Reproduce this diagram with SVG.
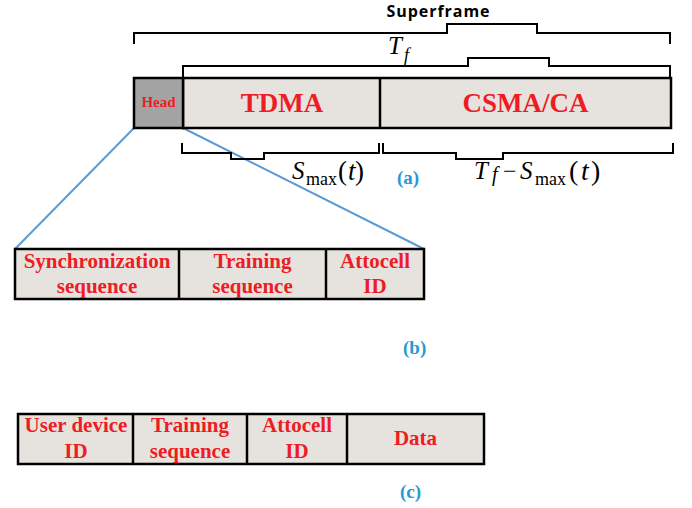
<svg xmlns="http://www.w3.org/2000/svg" width="692" height="508" viewBox="0 0 692 508">
<style>
.cell{fill:#e6e3de;stroke:#000;stroke-width:2.5}
.head{fill:#a3a3a3;stroke:#000;stroke-width:2.5}
.div{stroke:#000;stroke-width:2.5}
.brace{fill:none;stroke:#000;stroke-width:2}
.lbl{font-family:"Liberation Serif",serif;font-weight:bold;fill:#ee1c24;text-anchor:middle}
.math{font-family:"Liberation Serif",serif;fill:#000}
.it{font-style:italic}
.tag{font-family:"Liberation Serif",serif;font-weight:bold;fill:#1f9bd7;font-size:19px}
.zoom{stroke:#5b9bd5;stroke-width:2;fill:none}
</style>
<rect width="692" height="508" fill="#fff"/>
<g id="connectors">
<line class="zoom" x1="134" y1="128" x2="15" y2="249"/>
<line class="zoom" x1="183" y1="128" x2="424" y2="249"/>
</g>
<g id="superframe-brace">
<path class="brace" d="M134,44 V33 H447 V24 H537 V33 H670 V44"/>
<text x="438" y="17" font-family="Open Sans, Liberation Sans, sans-serif" font-weight="bold" font-size="16" text-anchor="middle" textLength="103" lengthAdjust="spacing" fill="#000">Superframe</text>
</g>
<g id="tf-brace">
<path class="brace" d="M183,77 V66 H468 V58 H549 V66 H670 V77"/>
<text class="math" y="54" font-size="25"><tspan class="it" x="388">T</tspan><tspan class="it" x="404" y="61" font-size="18">f</tspan></text>
</g>
<g id="frame-a">
<rect class="cell" x="183" y="78" width="488" height="50"/>
<line class="div" x1="380" y1="78" x2="380" y2="128"/>
<rect class="head" x="134" y="78" width="49" height="50"/>
<text class="lbl" x="158.5" y="107" font-size="15">Head</text>
<text class="lbl" x="282" y="112" font-size="27">TDMA</text>
<text class="lbl" x="525.5" y="112" font-size="27">CSMA/CA</text>
</g>
<g id="smax-brace">
<path class="brace" d="M182,143 V153 H231 V159 H264 V153 H379 V143"/>
<text class="math" y="179" font-size="25"><tspan class="it" x="292">S</tspan><tspan x="306" y="185" font-size="18">max</tspan><tspan x="338" y="180" font-size="27">(</tspan><tspan class="it" x="348" font-size="27">t</tspan><tspan x="355" font-size="27">)</tspan></text>
</g>
<g id="tfs-brace">
<path class="brace" d="M383,143 V153 H456 V159 H503 V153 H673 V143"/>
<text class="math" y="179" font-size="25"><tspan class="it" x="474">T</tspan><tspan class="it" x="492" y="181" font-size="20">f</tspan><tspan x="503" y="179" font-size="24">−</tspan><tspan class="it" x="520">S</tspan><tspan x="535" y="185" font-size="18">max</tspan><tspan x="569" y="180" font-size="28">(</tspan><tspan class="it" x="581" font-size="28">t</tspan><tspan x="591" font-size="28">)</tspan></text>
</g>
<text class="tag" x="397" y="184">(a)</text>
<g id="frame-b">
<rect class="cell" x="15" y="249" width="409" height="50"/>
<line class="div" x1="179" y1="249" x2="179" y2="299"/>
<line class="div" x1="326" y1="249" x2="326" y2="299"/>
<text class="lbl" x="97" y="268" font-size="21">Synchronization</text>
<text class="lbl" x="97" y="293" font-size="21">sequence</text>
<text class="lbl" x="252.5" y="268" font-size="21">Training</text>
<text class="lbl" x="252.5" y="293" font-size="21">sequence</text>
<text class="lbl" x="375" y="268" font-size="21">Attocell</text>
<text class="lbl" x="375" y="293" font-size="21">ID</text>
</g>
<text class="tag" x="403" y="354">(b)</text>
<g id="frame-c">
<rect class="cell" x="18" y="414" width="466" height="50"/>
<line class="div" x1="133" y1="414" x2="133" y2="464"/>
<line class="div" x1="247" y1="414" x2="247" y2="464"/>
<line class="div" x1="347" y1="414" x2="347" y2="464"/>
<text class="lbl" x="76" y="432" font-size="21">User device</text>
<text class="lbl" x="76" y="458" font-size="21">ID</text>
<text class="lbl" x="190" y="432" font-size="21">Training</text>
<text class="lbl" x="190" y="458" font-size="21">sequence</text>
<text class="lbl" x="297" y="432" font-size="21">Attocell</text>
<text class="lbl" x="297" y="458" font-size="21">ID</text>
<text class="lbl" x="415.5" y="445" font-size="21">Data</text>
</g>
<text class="tag" x="400" y="498">(c)</text>
</svg>
